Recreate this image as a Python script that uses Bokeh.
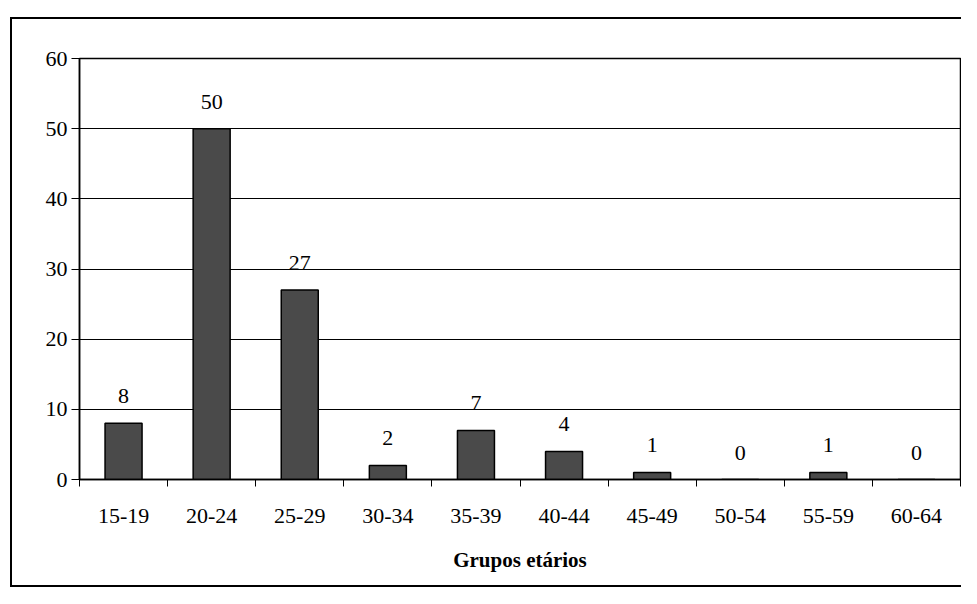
from bokeh.plotting import figure
from bokeh.models import FixedTicker, ColumnDataSource, Range1d, LabelSet
from bokeh.embed import file_html
from bokeh.resources import INLINE

categories = ["15-19", "20-24", "25-29", "30-34", "35-39", "40-44", "45-49", "50-54", "55-59", "60-64"]
values = [8, 50, 27, 2, 7, 4, 1, 0, 1, 0]
y_ticks = [0, 10, 20, 30, 40, 50, 60]
x_title = "Grupos etários"

FONT = "Liberation Serif"

xs = [i + 0.5 for i in range(len(categories))]
src = ColumnDataSource(dict(x=xs, top=values, label=[str(v) for v in values]))

p = figure(width=961, height=588, output_backend="svg", toolbar_location=None,
           x_range=Range1d(0, len(categories)), y_range=Range1d(0, 60),
           min_border_left=79, min_border_right=1, min_border_top=58, min_border_bottom=109)

# outer chart-area border drawn as CSS background lines behind a transparent canvas border
p.styles = {
    "background-color": "white",
    "background-image": "linear-gradient(black, black), linear-gradient(black, black), linear-gradient(black, black)",
    "background-size": "2px 570px, 951px 2px, 951px 2px",
    "background-position": "10px 17px, 10px 17px, 10px 585px",
    "background-repeat": "no-repeat",
}
p.border_fill_alpha = 0

p.vbar(x="x", top="top", width=0.42, bottom=0, source=src,
       fill_color="#4a4a4a", line_color="black", line_width=1.5)

labels = LabelSet(x="x", y="top", text="label", source=src, text_align="center",
                  text_baseline="bottom", y_offset=20, text_font=FONT,
                  text_font_size="22px", text_color="black")
p.add_layout(labels)

p.xaxis.ticker = FixedTicker(ticks=xs, minor_ticks=list(range(len(categories) + 1)))
p.xaxis.major_label_overrides = {x: c for x, c in zip(xs, categories)}
p.xaxis.major_tick_out = 0
p.xaxis.major_tick_in = 0
p.xaxis.minor_tick_out = 7
p.xaxis.minor_tick_in = 0
p.xaxis.minor_tick_line_color = "black"
p.xaxis.major_label_standoff = 22
p.xaxis.axis_label = x_title
p.xaxis.axis_label_text_font = FONT
p.xaxis.axis_label_text_font_style = "bold"
p.xaxis.axis_label_text_font_size = "21px"
p.xaxis.axis_label_standoff = 22

p.yaxis.ticker = FixedTicker(ticks=y_ticks, minor_ticks=[])
p.yaxis.major_tick_out = 8
p.yaxis.major_tick_in = 0
p.yaxis.major_label_standoff = 4

for ax in (p.xaxis[0], p.yaxis[0]):
    ax.axis_line_color = "black"
    ax.axis_line_width = 1.5
    ax.major_tick_line_color = "black"
    ax.major_label_text_font = FONT
    ax.major_label_text_font_size = "22px"
    ax.major_label_text_color = "black"
    ax.axis_label_text_color = "black"

p.xgrid.grid_line_color = None
p.ygrid.ticker = FixedTicker(ticks=y_ticks)
p.ygrid.grid_line_color = "black"
p.ygrid.grid_line_width = 1.2
p.ygrid.grid_line_alpha = 1.0

p.outline_line_color = "black"
p.outline_line_width = 1.5
p.background_fill_color = "white"

open("out.html", "w").write(file_html(p, INLINE))
